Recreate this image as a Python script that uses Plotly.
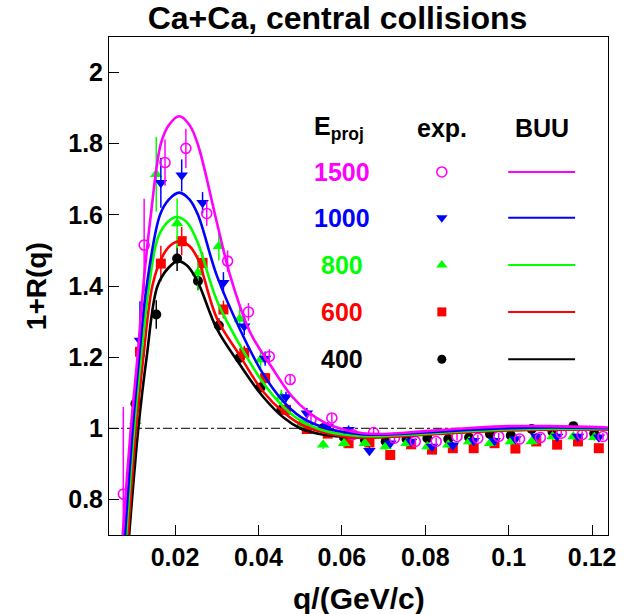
import plotly.graph_objects as go

# ---------------- data ----------------
# experimental points: q [GeV/c], 1+R(q), statistical error
q_400 = [0.0105, 0.0155, 0.0205, 0.0255, 0.0305, 0.0355, 0.0405, 0.0455, 0.0505, 0.0555, 0.0605, 0.0655,
         0.0705, 0.0755, 0.0805, 0.0855, 0.0905, 0.0955, 0.1005, 0.1055, 0.1105, 0.1155, 0.1205]
r_400 = [1.069, 1.320, 1.477, 1.414, 1.289, 1.198, 1.115, 1.052, 1.008, 1.000, 0.975, 0.968,
         0.963, 0.970, 0.972, 0.970, 0.974, 0.984, 0.980, 0.998, 0.990, 1.006, 0.985]
e_400 = [0.040, 0.040, 0.035, 0.025, 0.020, 0.015, 0.012, 0.010, 0.010, 0.010, 0.010, 0.010,
         0.010, 0.010, 0.010, 0.010, 0.010, 0.010, 0.010, 0.010, 0.010, 0.010, 0.010]

q_600 = [0.0116, 0.0166, 0.0216, 0.0266, 0.0316, 0.0366, 0.0416, 0.0466, 0.0516, 0.0566, 0.0616, 0.0666,
         0.0716, 0.0766, 0.0816, 0.0866, 0.0916, 0.0966, 0.1016, 0.1066, 0.1116, 0.1166, 0.1216]
r_600 = [1.215, 1.463, 1.526, 1.465, 1.334, 1.212, 1.141, 1.052, 0.998, 0.985, 0.958, 0.960,
         0.925, 0.955, 0.940, 0.944, 0.944, 0.958, 0.943, 0.963, 0.954, 0.963, 0.944]
e_600 = [0.050, 0.050, 0.040, 0.030, 0.025, 0.020, 0.015, 0.015, 0.012, 0.010, 0.010, 0.010,
         0.010, 0.010, 0.010, 0.010, 0.010, 0.010, 0.010, 0.010, 0.010, 0.010, 0.010]

q_800 = [0.0105, 0.0155, 0.0205, 0.0255, 0.0305, 0.0355, 0.0405, 0.0455, 0.0505, 0.0555, 0.0605, 0.0655,
         0.0705, 0.0755, 0.0805, 0.0855, 0.0905, 0.0955, 0.1005, 0.1055, 0.1105, 0.1155, 0.1205]
r_800 = [1.020, 1.714, 1.576, 1.437, 1.512, 1.307, 1.193, 1.088, 1.010, 0.954, 0.958, 0.958,
         0.949, 0.958, 0.949, 0.954, 0.963, 0.958, 0.963, 0.963, 0.977, 0.977, 0.975]
e_800 = [0.130, 0.105, 0.070, 0.050, 0.040, 0.030, 0.025, 0.020, 0.015, 0.012, 0.012, 0.010,
         0.010, 0.010, 0.010, 0.010, 0.010, 0.010, 0.010, 0.010, 0.010, 0.010, 0.010]

q_1000 = [0.0116, 0.0166, 0.0216, 0.0266, 0.0316, 0.0366, 0.0416, 0.0466, 0.0516, 0.0566, 0.0616, 0.0666,
          0.0716, 0.0766, 0.0816, 0.0866, 0.0916, 0.0966, 0.1016, 0.1066, 0.1116, 0.1166, 0.1216]
r_1000 = [1.247, 1.690, 1.711, 1.634, 1.409, 1.287, 1.196, 1.088, 1.042, 1.005, 0.996, 0.937,
          0.958, 0.963, 0.949, 0.952, 0.965, 0.965, 0.970, 0.977, 0.977, 0.977, 0.975]
e_1000 = [0.110, 0.070, 0.045, 0.030, 0.030, 0.025, 0.020, 0.015, 0.015, 0.012, 0.012, 0.010,
          0.010, 0.010, 0.010, 0.010, 0.010, 0.010, 0.010, 0.010, 0.010, 0.010, 0.010]

q_1500 = [0.0076, 0.0126, 0.0176, 0.0226, 0.0276, 0.0326, 0.0376, 0.0426, 0.0476, 0.0526, 0.0576, 0.0626,
          0.0676, 0.0726, 0.0776, 0.0826, 0.0876, 0.0926, 0.0976, 0.1026, 0.1076, 0.1126, 0.1176, 0.1226]
r_1500 = [0.815, 1.515, 1.747, 1.787, 1.604, 1.470, 1.327, 1.202, 1.137, 1.024, 1.029, 0.982,
          0.988, 0.972, 0.963, 0.963, 0.977, 0.972, 0.977, 0.970, 0.974, 0.986, 0.982, 0.977]
e_1500 = [0.245, 0.130, 0.065, 0.055, 0.035, 0.030, 0.025, 0.020, 0.015, 0.015, 0.012, 0.012,
          0.010, 0.010, 0.010, 0.010, 0.010, 0.010, 0.010, 0.010, 0.010, 0.010, 0.010, 0.010]

# BUU calculations (curves)
buu_q_400 = [0.0085, 0.0090, 0.0112, 0.0132, 0.0158, 0.0185, 0.0207, 0.0230, 0.0255, 0.0300, 0.0355, 0.0410,
             0.0460, 0.0500, 0.0550, 0.0600, 0.0650, 0.0700, 0.0800, 0.0900, 0.1000, 0.1100, 0.1245]
buu_r_400 = [0.62, 0.70, 1.00, 1.20, 1.40, 1.452, 1.470, 1.456, 1.410, 1.280, 1.180, 1.090,
             1.030, 1.000, 0.983, 0.976, 0.974, 0.976, 0.983, 0.990, 0.995, 0.997, 0.997]

buu_q_600 = [0.0082, 0.0087, 0.01065, 0.0124, 0.01456, 0.0167, 0.0190, 0.0211, 0.0235, 0.0255, 0.0300, 0.0355,
             0.0410, 0.0460, 0.0500, 0.0550, 0.0600, 0.0650, 0.0700, 0.0800, 0.0900, 0.1000, 0.1100, 0.1245]
buu_r_600 = [0.62, 0.70, 1.00, 1.20, 1.40, 1.477, 1.515, 1.526, 1.512, 1.475, 1.310, 1.205,
             1.105, 1.045, 1.012, 0.990, 0.978, 0.974, 0.975, 0.982, 0.989, 0.994, 0.996, 0.996]

buu_q_800 = [0.0078, 0.0083, 0.0102, 0.01185, 0.01377, 0.0160, 0.0185, 0.0205, 0.0230, 0.0255, 0.0300, 0.0355,
             0.0410, 0.0460, 0.0500, 0.0550, 0.0600, 0.0650, 0.0700, 0.0800, 0.0900, 0.1000, 0.1100, 0.1245]
buu_r_800 = [0.62, 0.70, 1.00, 1.20, 1.40, 1.539, 1.583, 1.594, 1.577, 1.520, 1.360, 1.235,
             1.130, 1.060, 1.022, 0.996, 0.983, 0.978, 0.978, 0.985, 0.992, 0.997, 0.999, 0.998]

buu_q_1000 = [0.0075, 0.0080, 0.00985, 0.0114, 0.0132, 0.0164, 0.0185, 0.0210, 0.0235, 0.0255, 0.0300, 0.0355,
              0.0410, 0.0460, 0.0500, 0.0550, 0.0600, 0.0650, 0.0700, 0.0800, 0.0900, 0.1000, 0.1100, 0.1245]
buu_r_1000 = [0.62, 0.70, 1.00, 1.20, 1.40, 1.600, 1.643, 1.6625, 1.643, 1.600, 1.430, 1.280,
              1.155, 1.075, 1.033, 1.005, 0.990, 0.983, 0.982, 0.988, 0.995, 1.000, 1.002, 1.000]

buu_q_1500 = [0.0070, 0.00745, 0.0094, 0.0110, 0.0124, 0.0142, 0.0166, 0.0185, 0.0210, 0.0235, 0.0255, 0.0300,
              0.0332, 0.0380, 0.0430, 0.0480, 0.0520, 0.0560, 0.0600, 0.0650, 0.0700, 0.0800, 0.0900, 0.1000,
              0.1100, 0.1245]
buu_r_1500 = [0.63, 0.70, 1.00, 1.20, 1.40, 1.60, 1.80, 1.852, 1.877, 1.852, 1.797, 1.580,
              1.430, 1.270, 1.175, 1.090, 1.045, 1.015, 0.998, 0.986, 0.984, 0.992, 1.000, 1.006,
              1.006, 1.002]

energies = ["400", "600", "800", "1000", "1500"]
colors = ["#000000", "#FF0000", "#00FF00", "#0000FF", "#FF00FF"]
symbols = ["circle", "square", "triangle-up", "triangle-down", "circle-open"]
marker_sizes = [10, 10, 11, 11, 10]

x_tickvals = [0.02, 0.04, 0.06, 0.08, 0.10, 0.12]
x_ticktext = ["0.02", "0.04", "0.06", "0.08", "0.1", "0.12"]
y_tickvals = [0.8, 1.0, 1.2, 1.4, 1.6, 1.8, 2.0]
y_ticktext = ["0.8", "1", "1.2", "1.4", "1.6", "1.8", "2"]

title_text = "Ca+Ca, central collisions"
x_title = "q/(GeV/c)"
y_title = "1+R(q)"

exp_q = [q_400, q_600, q_800, q_1000, q_1500]
exp_r = [r_400, r_600, r_800, r_1000, r_1500]
exp_e = [e_400, e_600, e_800, e_1000, e_1500]
buu_q = [buu_q_400, buu_q_600, buu_q_800, buu_q_1000, buu_q_1500]
buu_r = [buu_r_400, buu_r_600, buu_r_800, buu_r_1000, buu_r_1500]

FONT = "Liberation Sans, Arial, sans-serif"

fig = go.Figure()

# experimental points
for q, r, e, c, s, ms in zip(exp_q, exp_r, exp_e, colors, symbols, marker_sizes):
    marker = dict(symbol=s, size=ms, color=c)
    if s.endswith("open"):
        marker["line"] = dict(color=c, width=1.6)
    fig.add_trace(go.Scatter(
        x=q, y=r, mode="markers", marker=marker,
        error_y=dict(type="data", array=e, color=c, thickness=1.5, width=0),
        showlegend=False, cliponaxis=True))

# BUU curves
for q, r, c in zip(buu_q, buu_r, colors):
    fig.add_trace(go.Scatter(
        x=q, y=r, mode="lines", line=dict(color=c, width=2.6, shape="spline", smoothing=1.0),
        showlegend=False, cliponaxis=True))

# ----- legend table drawn on an overlay axis with unit range -----
leg_rows_y = [0.353, 0.448, 0.542, 0.637, 0.729]   # 400 ... 1500 (bottom to top)
leg_marker_x = 0.667
leg_line_x = [0.800, 0.934]
leg_marker_sizes = [9, 9, 10, 10, 10]
for yy, c, s, ms in zip(leg_rows_y, colors, symbols, leg_marker_sizes):
    marker = dict(symbol=s, size=ms, color=c)
    if s.endswith("open"):
        marker["line"] = dict(color=c, width=1.6)
    fig.add_trace(go.Scatter(x=[leg_marker_x], y=[yy], mode="markers", marker=marker,
                             xaxis="x2", yaxis="y2", showlegend=False))
    fig.add_trace(go.Scatter(x=leg_line_x, y=[yy, yy], mode="lines", line=dict(color=c, width=2),
                             xaxis="x2", yaxis="y2", showlegend=False))

annotations = []
leg_label_x = 0.466
for yy, c, en in zip(leg_rows_y, colors, energies):
    annotations.append(dict(xref="paper", yref="paper", x=leg_label_x, y=yy, text=en, showarrow=False,
                            xanchor="center", yanchor="middle",
                            font=dict(family=FONT, size=25, color=c, weight="bold")))
hdr_y = 0.818
annotations.append(dict(xref="paper", yref="paper", x=leg_label_x - 0.006, y=hdr_y, text="E<sub>proj</sub>",
                        showarrow=False, xanchor="center", yanchor="middle",
                        font=dict(family=FONT, size=25, color="black", weight="bold")))
annotations.append(dict(xref="paper", yref="paper", x=leg_marker_x, y=hdr_y, text="exp.",
                        showarrow=False, xanchor="center", yanchor="middle",
                        font=dict(family=FONT, size=25, color="black", weight="bold")))
annotations.append(dict(xref="paper", yref="paper", x=0.867, y=hdr_y, text="BUU",
                        showarrow=False, xanchor="center", yanchor="middle",
                        font=dict(family=FONT, size=25, color="black", weight="bold")))
# axis titles
annotations.append(dict(xref="paper", yref="paper", x=0.5, y=-0.127, text=x_title, showarrow=False,
                        xanchor="center", yanchor="middle",
                        font=dict(family=FONT, size=30, color="black", weight="bold")))
annotations.append(dict(xref="paper", yref="paper", x=-0.146, y=0.5, text=y_title, showarrow=False,
                        xanchor="center", yanchor="middle", textangle=-90,
                        font=dict(family=FONT, size=28, color="black", weight="bold")))

axis_common = dict(showgrid=False, zeroline=False, showline=True, linecolor="black", linewidth=1,
                   mirror=True, ticks="inside", ticklen=10, tickwidth=1, tickcolor="black",
                   tickfont=dict(family=FONT, size=25, color="black", weight="bold"))

fig.update_layout(
    width=631, height=614,
    margin=dict(l=109, r=23, t=37, b=79, pad=0),
    paper_bgcolor="white", plot_bgcolor="white",
    title=dict(text=title_text, x=0.458, xref="paper", xanchor="center", y=0.971, yref="container",
               yanchor="middle", font=dict(family=FONT, size=32, color="black", weight="bold")),
    xaxis=dict(range=[0.00417, 0.1238], tickvals=x_tickvals, ticktext=x_ticktext, **axis_common),
    yaxis=dict(range=[0.7, 2.1], tickvals=y_tickvals, ticktext=y_ticktext, **axis_common),
    xaxis2=dict(range=[0, 1], overlaying="x", visible=False, fixedrange=True),
    yaxis2=dict(range=[0, 1], overlaying="y", visible=False, fixedrange=True),
    annotations=annotations,
    showlegend=False,
    hovermode=False,
)

# reference line at 1+R = 1
fig.add_hline(y=1.0, line=dict(color="black", width=1, dash="dashdot"), layer="below")

fig.write_html("out.html", config={"displayModeBar": False},
               post_script="document.body.style.margin='0';document.body.style.padding='0';")
